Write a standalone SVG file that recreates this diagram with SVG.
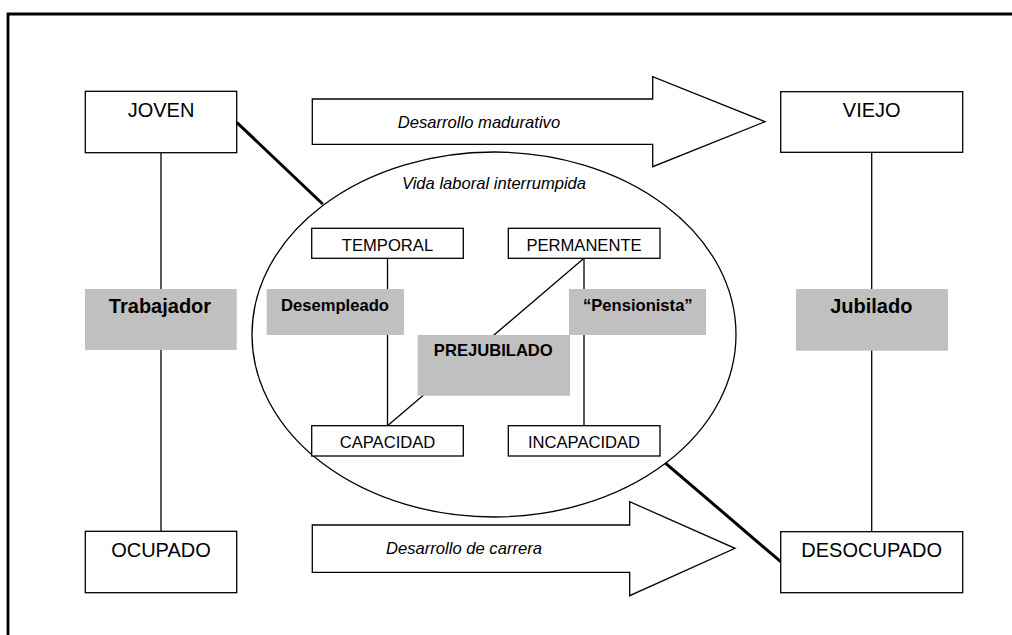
<svg xmlns="http://www.w3.org/2000/svg" width="1012" height="635" viewBox="0 0 1012 635">
<style>
.box{fill:#fff;stroke:#000;stroke-width:1.3}
.grey{fill:#c0c0c0;stroke:none}
.thin{stroke:#000;stroke-width:1.3;fill:none}
.thick{stroke:#000;stroke-width:3;fill:none}
.big{font-family:"Liberation Sans",Arial,sans-serif;font-size:20px;text-anchor:middle;fill:#000}
.small{font-family:"Liberation Sans",Arial,sans-serif;font-size:16.6px;text-anchor:middle;fill:#000}
.it{font-style:italic}
.b{font-weight:bold}
</style>
<rect width="1012" height="635" fill="#fff"/>
<g id="frame">
<path d="M8,640 L8,14 L1020,14" fill="none" stroke="#000" stroke-width="2.8"/>
</g>
<g id="connectors">
<line class="thin" x1="161" y1="152.7" x2="161" y2="531.3"/>
<line class="thin" x1="871.7" y1="152.3" x2="871.7" y2="531.7"/>
<line class="thick" x1="236.7" y1="122.3" x2="322.7" y2="204"/>
<line class="thick" x1="665.7" y1="463.3" x2="780.7" y2="561.7"/>
</g>
<g id="arrow-madurativo">
<polygon class="box" points="312.3,99 652.7,99 652.7,76.7 765,121.7 652.7,166.7 652.7,144.3 312.3,144.3"/>
<text class="small it" x="479" y="127.7">Desarrollo madurativo</text>
</g>
<g id="arrow-carrera">
<polygon class="box" points="312.3,525 629.7,525 629.7,501.7 735,548.3 629.7,595.7 629.7,572.3 312.3,572.3"/>
<text class="small it" x="464" y="554">Desarrollo de carrera</text>
</g>
<g id="vida-laboral">
<ellipse class="box" cx="494" cy="334.5" rx="242" ry="182.5"/>
<text class="small it" x="494" y="189">Vida laboral interrumpida</text>
</g>
<g id="inner-connectors">
<line class="thin" x1="387.5" y1="258.3" x2="387.5" y2="425.7"/>
<line class="thin" x1="584" y1="258.3" x2="584" y2="425.7"/>
<line class="thin" x1="584" y1="258.3" x2="387.5" y2="425.7"/>
</g>
<g id="joven">
<rect class="box" x="85.3" y="91.3" width="151.4" height="61.4"/>
<text class="big" x="161" y="117">JOVEN</text>
</g>
<g id="viejo">
<rect class="box" x="780.7" y="91.7" width="182" height="60.6"/>
<text class="big" x="871.7" y="117.3">VIEJO</text>
</g>
<g id="ocupado">
<rect class="box" x="85.3" y="531.3" width="151.4" height="61.4"/>
<text class="big" x="161" y="556.7">OCUPADO</text>
</g>
<g id="desocupado">
<rect class="box" x="780.7" y="531.7" width="182" height="61"/>
<text class="big" x="871.7" y="556.7">DESOCUPADO</text>
</g>
<g id="trabajador">
<rect class="grey" x="85" y="289" width="151.7" height="61"/>
<text class="big b" x="160" y="313.3">Trabajador</text>
</g>
<g id="jubilado">
<rect class="grey" x="796" y="289" width="152" height="61.7"/>
<text class="big b" x="871.3" y="313.3">Jubilado</text>
</g>
<g id="temporal">
<rect class="box" x="311.7" y="228.3" width="151.6" height="30"/>
<text class="small" x="387.5" y="250.7">TEMPORAL</text>
</g>
<g id="permanente">
<rect class="box" x="508.3" y="228.3" width="151.7" height="30"/>
<text class="small" x="584" y="250.7">PERMANENTE</text>
</g>
<g id="capacidad">
<rect class="box" x="311.7" y="425.7" width="151.6" height="30.3"/>
<text class="small" x="387.5" y="447.7">CAPACIDAD</text>
</g>
<g id="incapacidad">
<rect class="box" x="508.3" y="425.7" width="151.7" height="30.3"/>
<text class="small" x="584" y="447.7">INCAPACIDAD</text>
</g>
<g id="desempleado">
<rect class="grey" x="266.7" y="289" width="137.3" height="46"/>
<text class="small b" x="335" y="311">Desempleado</text>
</g>
<g id="pensionista">
<rect class="grey" x="569" y="289" width="137" height="46"/>
<text class="small b" x="637.8" y="311">“Pensionista”</text>
</g>
<g id="prejubilado">
<rect class="grey" x="417.7" y="335" width="152.3" height="60.7"/>
<text class="small b" x="493.3" y="355.7">PREJUBILADO</text>
</g>
</svg>
